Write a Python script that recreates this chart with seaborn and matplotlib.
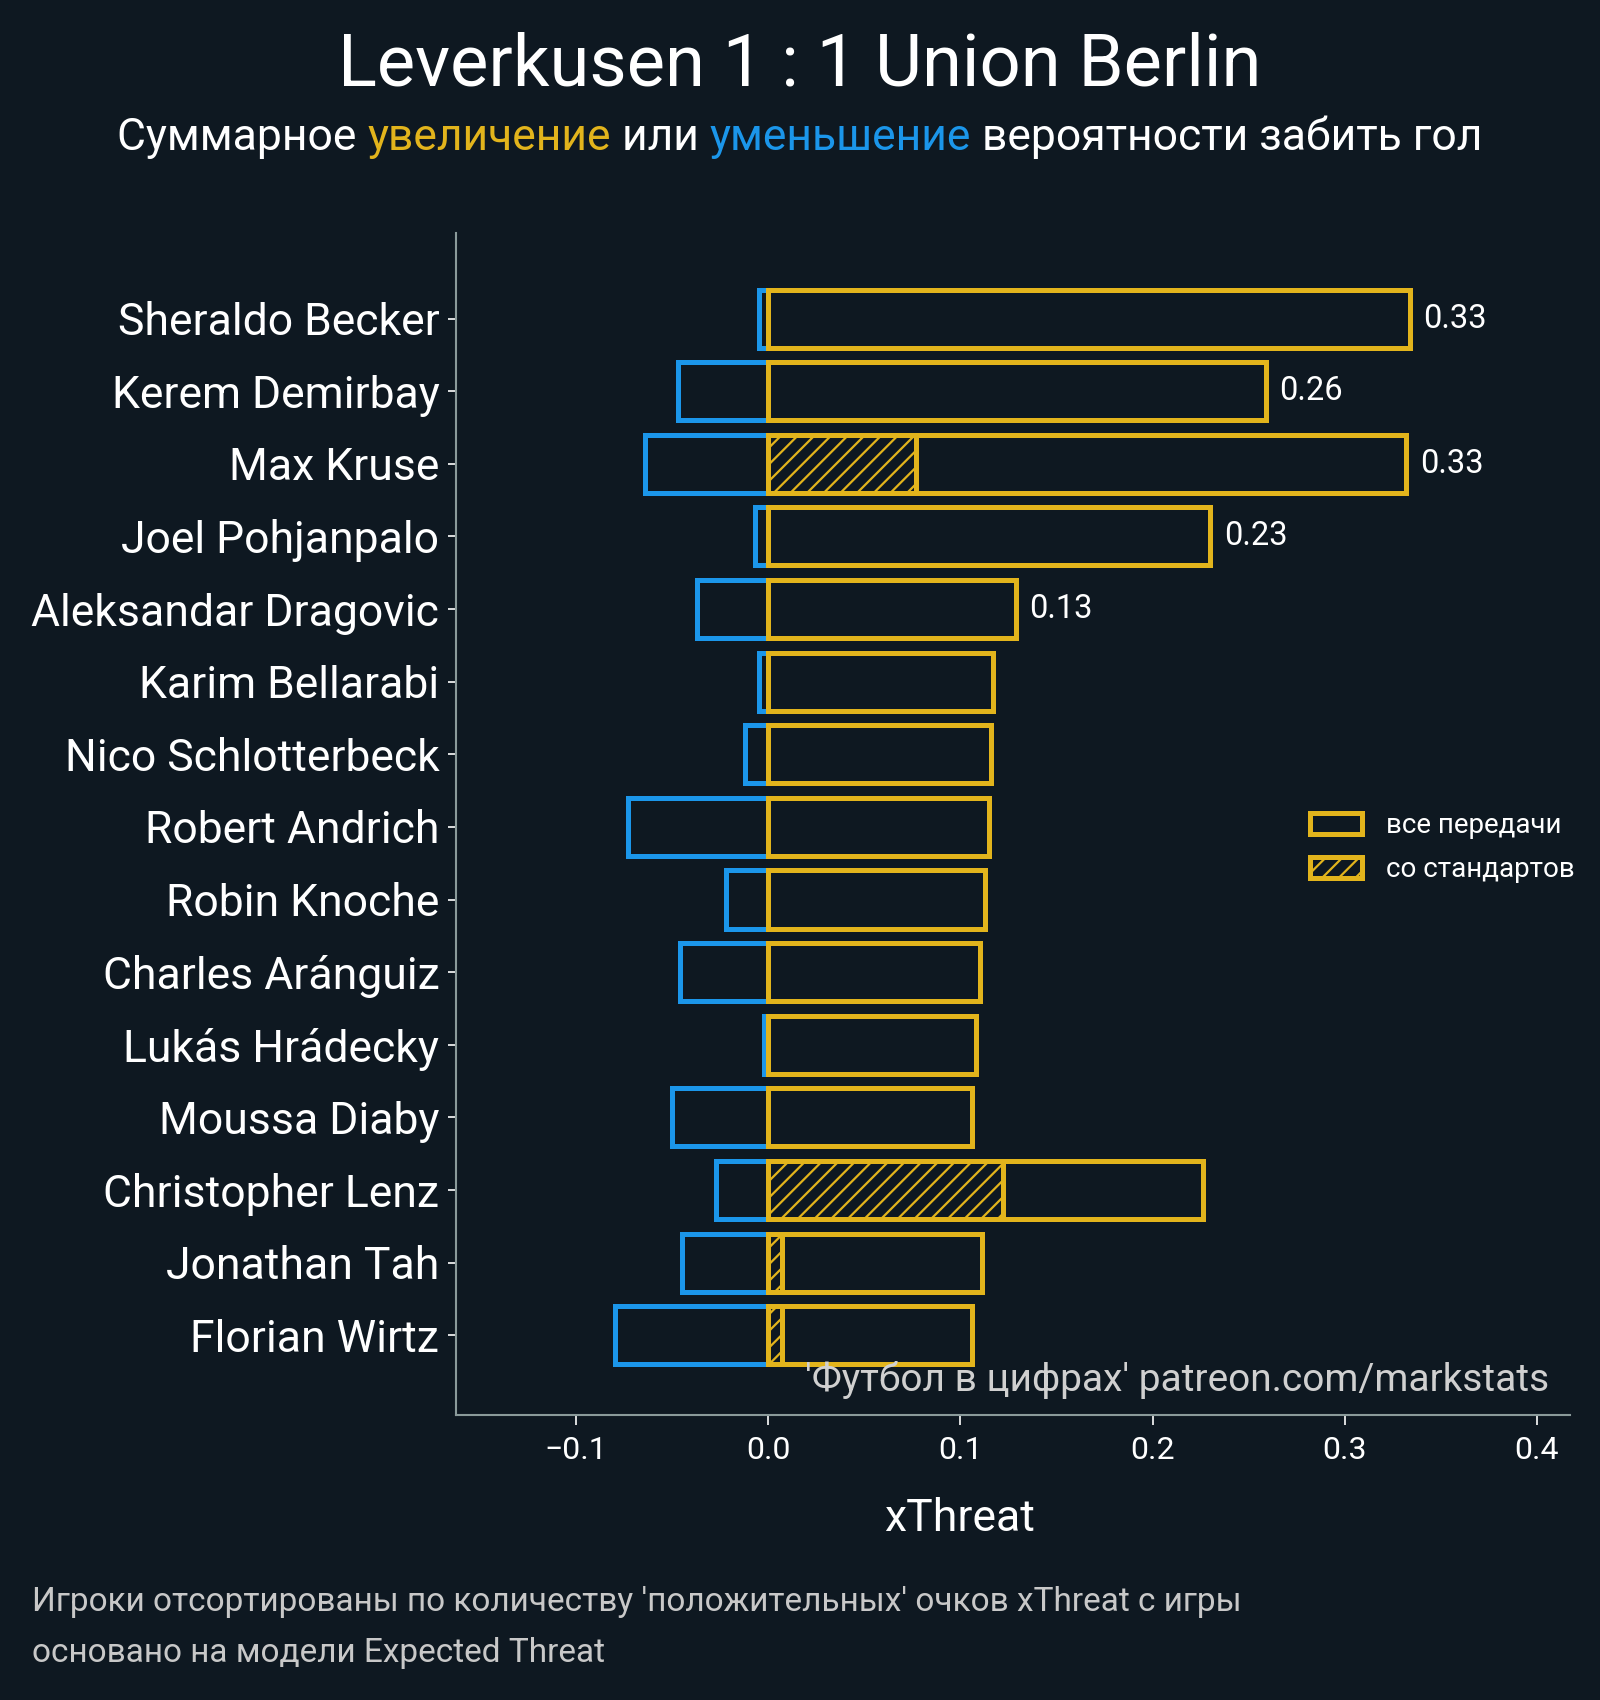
import matplotlib
matplotlib.use("Agg")
from matplotlib import pyplot as plt
from matplotlib.patches import Patch
import numpy as np
import pandas as pd
import seaborn as sns

players = ["Sheraldo Becker", "Kerem Demirbay", "Max Kruse", "Joel Pohjanpalo",
           "Aleksandar Dragovic", "Karim Bellarabi", "Nico Schlotterbeck",
           "Robert Andrich", "Robin Knoche", "Charles Aránguiz", "Lukás Hrádecky",
           "Moussa Diaby", "Christopher Lenz", "Jonathan Tah", "Florian Wirtz"]
positive = [0.334, 0.259, 0.332, 0.230, 0.129, 0.117, 0.116, 0.115, 0.113,
            0.110, 0.108, 0.106, 0.226, 0.111, 0.106]
negative = [-0.005, -0.047, -0.064, -0.007, -0.037, -0.005, -0.012, -0.073,
            -0.022, -0.046, -0.002, -0.050, -0.027, -0.045, -0.080]
set_pieces = [0.0, 0.0, 0.077, 0.0, 0.0, 0.0, 0.0, 0.0, 0.0, 0.0, 0.0, 0.0,
              0.122, 0.007, 0.007]
value_labels = ["0.33", "0.26", "0.33", "0.23", "0.13", "", "", "", "", "",
                "", "", "", "", ""]

BG = "#0e1821"
YELLOW = "#e2b41c"
BLUE = "#1b96ea"
SPINE = "#8a9a9a"

sns.set_theme(style="ticks")
plt.rcParams['font.family'] = ['Roboto', 'DejaVu Sans']
plt.rcParams['hatch.linewidth'] = 1.6
plt.rcParams['axes.unicode_minus'] = True

df = pd.DataFrame({"player": players, "positive": positive,
                   "negative": negative, "set_pieces": set_pieces})

fig = plt.figure(figsize=(16, 17), dpi=100, facecolor=BG)
ax = fig.add_axes([0.285, 0.1676, 0.696, 0.6954])
ax.set_facecolor(BG)

# negative contribution
sns.barplot(data=df, x="negative", y="player", orient="h", fill=False,
            color=BLUE, linewidth=3.6, width=0.8, ax=ax)
# positive contribution
sns.barplot(data=df, x="positive", y="player", orient="h", fill=False,
            color=YELLOW, linewidth=3.6, width=0.8, ax=ax)
n_before = len(ax.patches)
# set pieces, hatched
sns.barplot(data=df, x="set_pieces", y="player", orient="h", fill=False,
            color=YELLOW, linewidth=3.6, width=0.8, ax=ax)
for p in ax.patches[n_before:]:
    p.set_hatch("//")
    if p.get_width() == 0:
        p.set_visible(False)

for i, lab in enumerate(value_labels):
    if lab:
        ax.text(positive[i] + 0.007, i, lab, color="white", fontsize=23.5,
                va="center", ha="left")

ax.set_xlim(-0.1625, 0.417)
ax.set_ylim(len(players) - 1 + 1.1, -1.18)
ax.set_xticks([-0.1, 0.0, 0.1, 0.2, 0.3, 0.4])
ax.set_xticklabels(["\u22120.1", "0.0", "0.1", "0.2", "0.3", "0.4"])
ax.set_xlabel("xThreat", color="white", fontsize=32)
ax.xaxis.set_label_coords(0.452, -0.070)
ax.set_ylabel("")
ax.tick_params(axis="x", colors="white", labelsize=23, length=7, width=1.2,
               color="white", pad=8)
ax.tick_params(axis="y", colors="white", labelsize=32, length=6, width=1.2,
               color="white", pad=6)
sns.despine(ax=ax)
for s in ["left", "bottom"]:
    ax.spines[s].set_color(SPINE)
    ax.spines[s].set_linewidth(1.5)

handles = [Patch(facecolor="none", edgecolor=YELLOW, linewidth=3.6, label="все передачи"),
           Patch(facecolor="none", edgecolor=YELLOW, linewidth=3.6, hatch="//",
                 label="со стандартов")]
leg = ax.legend(handles=handles, loc="center left", bbox_to_anchor=(0.744, 0.48),
                frameon=False, fontsize=20, labelcolor="white",
                handlelength=1.9, handleheight=0.8, labelspacing=0.6,
                handletextpad=0.85)

ax.text(0.982, 0.03, "'Футбол в цифрах' patreon.com/markstats", transform=ax.transAxes,
        ha="right", va="center", color="#d0d0d0", fontsize=28)

fig.text(0.5, 0.961, "Leverkusen 1 : 1 Union Berlin", ha="center", va="center",
         color="white", fontsize=52)

# multicoloured subtitle
SUB_SIZE = 32
parts = [("Суммарное ", "white"), ("увеличение", YELLOW), (" или ", "white"),
         ("уменьшение", BLUE), (" вероятности забить гол", "white")]
fig.canvas.draw()
renderer = fig.canvas.get_renderer()


def text_width(s):
    tmp = fig.text(0, 0, s, fontsize=SUB_SIZE)
    w = tmp.get_window_extent(renderer).width
    tmp.remove()
    return w


total = text_width("".join(s for s, _ in parts))
x0 = 0.5 * fig.bbox.width - total / 2
for i, (s, c) in enumerate(parts):
    prefix = "".join(p for p, _ in parts[:i])
    off = text_width(prefix) if prefix else 0
    fig.text((x0 + off) / fig.bbox.width, 0.919, s, color=c, fontsize=SUB_SIZE,
             ha="left", va="center")

fig.text(0.02, 0.0576, "Игроки отсортированы по количеству 'положительных' очков xThreat с игры",
         color="#c8c8c8", fontsize=24, ha="left", va="center")
fig.text(0.02, 0.0276, "основано на модели Expected Threat",
         color="#c8c8c8", fontsize=24, ha="left", va="center")

plt.savefig("out.png", dpi=100, facecolor=BG)
